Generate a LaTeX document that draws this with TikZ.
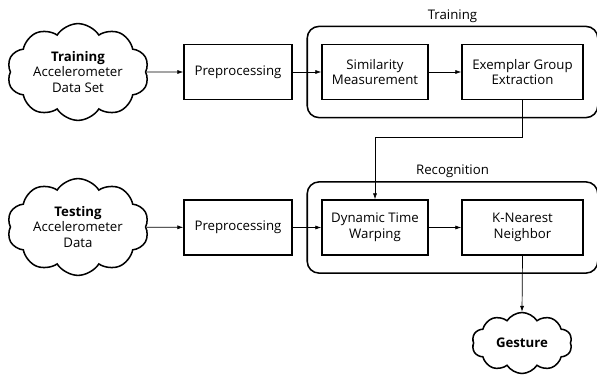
\documentclass[tikz,border=0pt]{standalone}
\usepackage{fontspec}
\setmainfont{Open Sans}
\usetikzlibrary{shapes.symbols,arrows.meta,fit}
\begin{document}
\begin{tikzpicture}[
  font=\fontsize{11.3}{13.3}\selectfont,
  block/.style={draw,line width=1.3pt,minimum height=1.65cm,align=center,inner sep=1pt},
  puff/.style={draw,cloud,cloud puffs=10,cloud puff arc=115,aspect=1.6,line width=1.3pt,align=center,inner sep=0pt},
  frame/.style={draw,line width=1.3pt,rounded corners=10pt,inner xsep=0.42cm,inner ysep=0.52cm},
  link/.style={line width=0.6pt,-{Latex[length=5pt,width=3.5pt]}}]
  \useasboundingbox (0,0) rectangle (17.91,11.46);
  % Training row
  \node[puff,minimum width=4.25cm,minimum height=2.7cm] (trainset) at (2.34,9.3) {\textbf{Training}\\Accelerometer\\Data Set};
  \node[block,minimum width=3.24cm] (prep1) at (7.14,9.3) {Preprocessing};
  \node[block,minimum width=3.18cm] (simil) at (11.25,9.3) {Similarity\\Measurement};
  \node[block,minimum width=3.63cm] (exemp) at (15.675,9.3) {Exemplar Group\\Extraction};
  \node[frame,fit=(simil)(exemp),label={[yshift=-1pt]above:Training}] (trainbox) {};
  % Recognition row
  \node[puff,minimum width=4.25cm,minimum height=2.8cm] (testset) at (2.34,4.65) {\textbf{Testing}\\Accelerometer\\Data};
  \node[block,minimum width=3.24cm] (prep2) at (7.14,4.635) {Preprocessing};
  \node[block,minimum width=3.18cm] (dtw) at (11.25,4.635) {Dynamic Time\\Warping};
  \node[block,minimum width=3.63cm] (knn) at (15.675,4.635) {K-Nearest\\Neighbor};
  \node[frame,fit=(dtw)(knn),label={[yshift=-1pt]above:Recognition}] (recogbox) {};
  \node[puff,minimum width=3.0cm,minimum height=1.83cm] (gesture) at (15.66,1.17) {\textbf{Gesture}};
  % Connectors
  \coordinate (bend) at (15.66,7.35);
  \draw[link] (trainset) -- (prep1);
  \draw[link] (prep1) -- (simil);
  \draw[link] (simil) -- (exemp);
  \draw[link] (exemp.south) -- (exemp.south |- bend) -| (dtw.north);
  \draw[link] (testset) -- (prep2);
  \draw[link] (prep2) -- (dtw);
  \draw[link] (dtw) -- (knn);
  \draw[link] (knn.south) -- (gesture.north);
\end{tikzpicture}
\end{document}
